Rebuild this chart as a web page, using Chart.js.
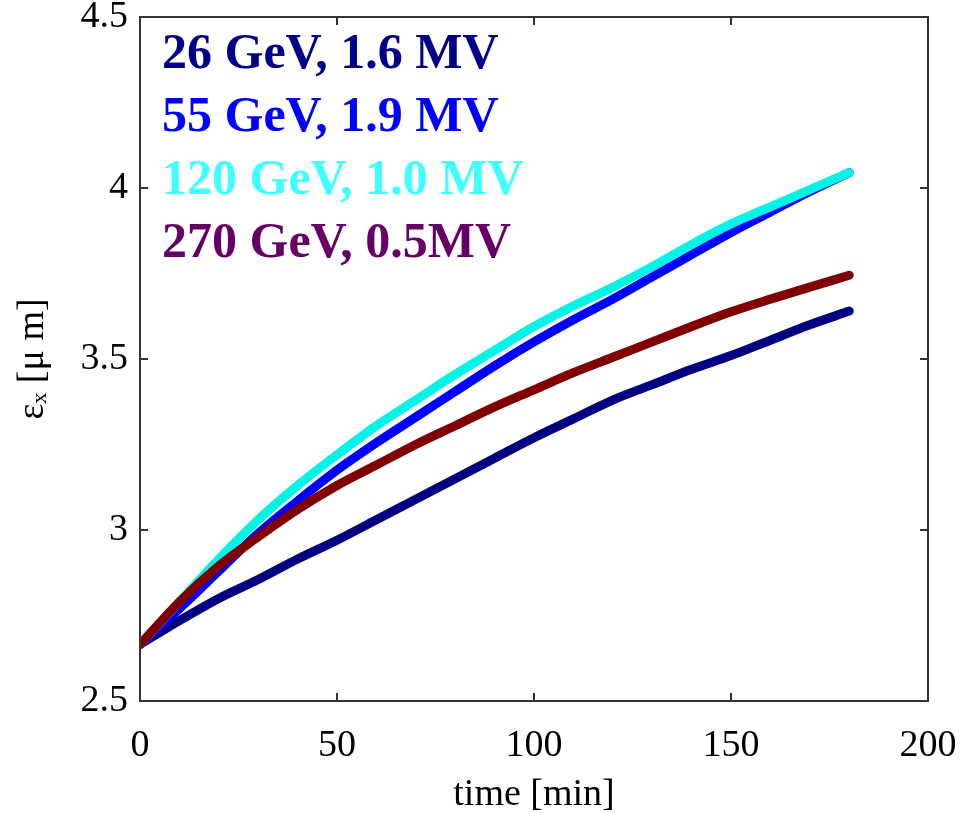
<!DOCTYPE html>
<html>
<head>
<meta charset="utf-8">
<script src="https://cdn.jsdelivr.net/npm/chart.js@4.4.1/dist/chart.umd.min.js"></script>
<style>
  html, body { margin: 0; padding: 0; background: #fff; }
</style>
</head>
<body>
<canvas id="myChart" width="960" height="813"></canvas>
<script>
// time axis (min)
let times = [0, 10, 20, 30, 40, 50, 60, 70, 80, 90, 100, 110, 120, 130, 140, 150, 160, 170, 180];

// emittance eps_x [um]
let eps26 = [2.665, 2.735, 2.80, 2.855, 2.915, 2.97, 3.03, 3.09, 3.15, 3.21, 3.27, 3.325, 3.38, 3.425, 3.47, 3.51, 3.555, 3.60, 3.64];
let eps55 = [2.665, 2.77, 2.88, 2.99, 3.085, 3.175, 3.255, 3.33, 3.405, 3.48, 3.55, 3.615, 3.675, 3.74, 3.805, 3.87, 3.93, 3.99, 4.045];
let eps120 = [2.665, 2.79, 2.915, 3.03, 3.13, 3.22, 3.305, 3.38, 3.455, 3.525, 3.595, 3.655, 3.71, 3.77, 3.835, 3.895, 3.945, 3.995, 4.045];
let eps270 = [2.665, 2.79, 2.895, 2.98, 3.06, 3.13, 3.19, 3.25, 3.305, 3.36, 3.41, 3.46, 3.505, 3.55, 3.595, 3.638, 3.675, 3.71, 3.745];

let seriesLabels = ['26 GeV, 1.6 MV', '55 GeV, 1.9 MV', '120 GeV, 1.0 MV', '270 GeV, 0.5MV'];
let lineColors = ['#000080', '#0000ff', '#00f5e6', '#800000'];
let textColors = ['#00008b', '#0000ff', '#40ffff', '#660066'];

let xTicks = [0, 50, 100, 150, 200];
let yTicks = [2.5, 3, 3.5, 4, 4.5];

let allSeries = [eps26, eps55, eps120, eps270];
// draw order: maroon on top, then cyan, blue, navy
let drawOrder = [4, 3, 2, 1];

function toPoints(ys) {
    return times.map((t, i) => ({ x: t, y: ys[i] }));
}

// matlab style box with inward ticks
const axesBox = {
    id: 'axesBox',
    afterDatasetsDraw(chart) {
        const { ctx, chartArea: a, scales } = chart;
        const len = 8;
        ctx.save();
        ctx.strokeStyle = '#333';
        ctx.lineWidth = 2;
        ctx.strokeRect(a.left, a.top, a.right - a.left, a.bottom - a.top);
        ctx.beginPath();
        xTicks.forEach(v => {
            const px = Math.round(scales.x.getPixelForValue(v));
            ctx.moveTo(px, a.bottom); ctx.lineTo(px, a.bottom - len);
            ctx.moveTo(px, a.top); ctx.lineTo(px, a.top + len);
        });
        yTicks.forEach(v => {
            const py = Math.round(scales.y.getPixelForValue(v));
            ctx.moveTo(a.left, py); ctx.lineTo(a.left + len, py);
            ctx.moveTo(a.right, py); ctx.lineTo(a.right - len, py);
        });
        ctx.stroke();
        ctx.restore();
    }
};

// text legend in the upper left corner
const textLegend = {
    id: 'textLegend',
    afterDraw(chart) {
        const { ctx, chartArea: a } = chart;
        ctx.save();
        ctx.font = 'bold 50px "Liberation Serif", serif';
        ctx.textAlign = 'left';
        ctx.textBaseline = 'alphabetic';
        seriesLabels.forEach((s, i) => {
            ctx.fillStyle = textColors[i];
            ctx.fillText(s, a.left + 22, a.top + 51 + i * 63);
        });
        ctx.restore();
    }
};

let ctx = document.getElementById('myChart').getContext('2d');

let chart = new Chart(ctx, {
    type: 'line',
    data: {
        datasets: allSeries.map((ys, i) => ({
            label: seriesLabels[i],
            data: toPoints(ys),
            borderColor: lineColors[i],
            backgroundColor: lineColors[i],
            borderWidth: 9,
            borderCapStyle: 'round',
            borderJoinStyle: 'round',
            cubicInterpolationMode: 'monotone',
            pointRadius: 0,
            fill: false,
            order: drawOrder[i]
        }))
    },
    plugins: [axesBox, textLegend],
    options: {
        responsive: false,
        animation: false,
        devicePixelRatio: 1,
        layout: { padding: { top: 17, right: 32, left: 0, bottom: 0 } },
        plugins: {
            legend: { display: false },
            tooltip: { enabled: false }
        },
        scales: {
            x: {
                type: 'linear',
                min: 0,
                max: 200,
                afterBuildTicks: s => { s.ticks = xTicks.map(v => ({ value: v })); },
                afterFit: s => { s.height = 112; s.paddingLeft = 0; s.paddingRight = 0; },
                grid: { display: false, drawTicks: false },
                border: { display: false },
                ticks: {
                    color: '#000',
                    padding: 22,
                    maxRotation: 0,
                    font: { family: '"Liberation Serif", serif', size: 38 }
                },
                title: {
                    display: true,
                    text: 'time [min]',
                    color: '#000',
                    padding: { top: 0, bottom: -5 },
                    font: { family: '"Liberation Serif", serif', size: 38 }
                }
            },
            y: {
                type: 'linear',
                min: 2.5,
                max: 4.5,
                afterBuildTicks: s => { s.ticks = yTicks.map(v => ({ value: v })); },
                afterFit: s => { s.width = 140; s.paddingTop = 0; s.paddingBottom = 0; },
                grid: { display: false, drawTicks: false },
                border: { display: false },
                ticks: {
                    color: '#000',
                    padding: 12,
                    callback: v => String(v),
                    font: { family: '"Liberation Serif", serif', size: 38 }
                },
                title: {
                    display: true,
                    text: 'εₓ [μ m]',
                    color: '#000',
                    padding: 10,
                    font: { family: '"Liberation Serif", serif', size: 38 }
                }
            }
        }
    }
});
</script>
</body>
</html>
